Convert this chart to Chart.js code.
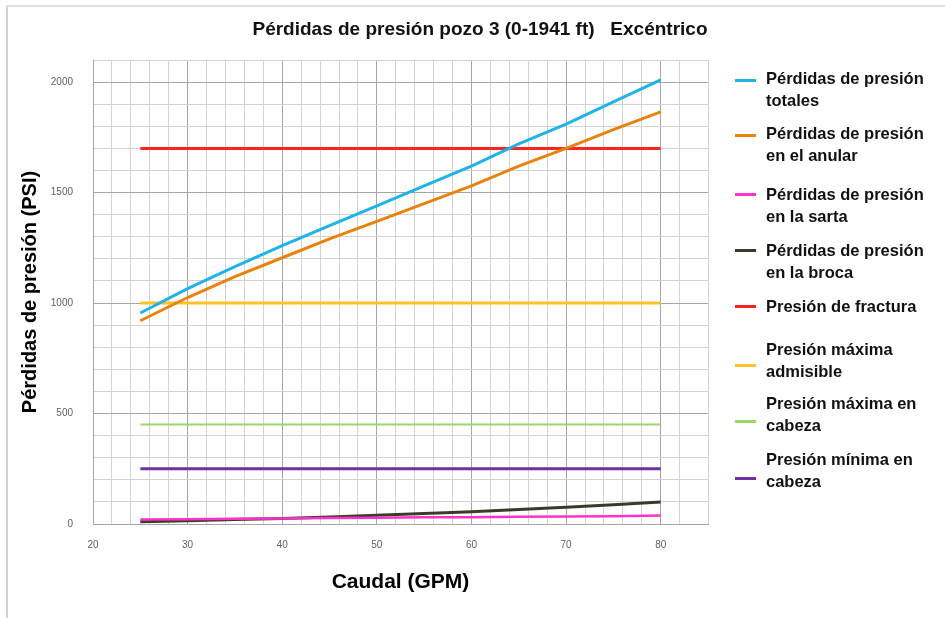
<!DOCTYPE html>
<html>
<head>
<meta charset="utf-8">
<script src="https://cdn.jsdelivr.net/npm/chart.js@4.4.1/dist/chart.umd.min.js"></script>
<style>
  html, body { margin: 0; padding: 0; background: #fff; }
  #wrap { position: relative; width: 945px; height: 618px; overflow: hidden; }
  #frame { position: absolute; left: 6px; top: 5px; width: 945px; height: 620px;
           border-left: 2px solid #d4d4d4; border-top: 2px solid #e0e0e0; }
  #title { position: absolute; left: 0; width: 960px; top: 18px; text-align: center;
           font: bold 19px "Liberation Sans", Arial, sans-serif; color: #111; white-space: pre; }
  .leg { position: absolute; left: 735px; font: bold 16.5px "Liberation Sans", Arial, sans-serif;
         color: #111; line-height: 22px; }
  .leg span.s { position: absolute; left: 0; width: 21px; height: 3px; }
  .leg div.t { position: absolute; left: 31px; white-space: nowrap; }
</style>
</head>
<body>
<div id="wrap">
  <div id="frame"></div>
  <div id="title">Pérdidas de presión pozo 3 (0-1941 ft)   Excéntrico</div>
  <canvas id="plotCanvas" width="945" height="618"></canvas>
  <div id="legend"></div>
</div>
<script>
// caudal (GPM)
const caudal = [25, 30, 35, 40, 45, 50, 55, 60, 65, 70, 75, 80];

// pressure losses (PSI)
const totales = [955, 1065, 1165, 1260, 1350, 1440, 1530, 1620, 1720, 1810, 1910, 2010];
const anular  = [920, 1025, 1120, 1205, 1290, 1370, 1450, 1530, 1620, 1700, 1785, 1865];
const sarta   = [20, 22, 24, 25, 27, 28, 30, 31, 33, 34, 35, 38];
const broca   = [10, 15, 20, 25, 32, 40, 48, 56, 66, 76, 87, 100];
const fractura    = [1700, 1700, 1700, 1700, 1700, 1700, 1700, 1700, 1700, 1700, 1700, 1700];
const maxAdmis    = [1000, 1000, 1000, 1000, 1000, 1000, 1000, 1000, 1000, 1000, 1000, 1000];
const maxCabeza   = [450, 450, 450, 450, 450, 450, 450, 450, 450, 450, 450, 450];
const minCabeza   = [250, 250, 250, 250, 250, 250, 250, 250, 250, 250, 250, 250];

const xTickLabels = [20, 30, 40, 50, 60, 70, 80];
const yTickLabels = [0, 500, 1000, 1500, 2000];

const series = [
  { lines: ['Pérdidas de presión', 'totales'],     data: totales,   color: '#1fb3ea', width: 3 },
  { lines: ['Pérdidas de presión', 'en el anular'], data: anular,   color: '#e8830f', width: 3 },
  { lines: ['Pérdidas de presión', 'en la sarta'], data: sarta,     color: '#ff33cc', width: 2.5 },
  { lines: ['Pérdidas de presión', 'en la broca'], data: broca,     color: '#3b3b2b', width: 3 },
  { lines: ['Presión de fractura'],                data: fractura,  color: '#ff2424', width: 3 },
  { lines: ['Presión máxima', 'admisible'],         data: maxAdmis,  color: '#ffc12a', width: 3 },
  { lines: ['Presión máxima en', 'cabeza'],         data: maxCabeza, color: '#9ad86a', width: 2 },
  { lines: ['Presión mínima en', 'cabeza'],         data: minCabeza, color: '#7030a0', width: 3 }
];

// legend placement: [text top, sample line y]
const legendPos = [[67, 80], [122, 135], [183, 194], [239, 250], [295, 306], [338, 365], [392, 421], [448, 478]];

const ctx = document.getElementById('plotCanvas');

const chart = new Chart(ctx, {
  type: 'line',
  data: {
    datasets: series.map(s => ({
      label: s.lines.join(' '),
      data: s.data.map((v, i) => ({ x: caudal[i], y: v })),
      borderColor: s.color,
      backgroundColor: s.color,
      borderWidth: s.width,
      pointRadius: 0,
      tension: 0
    }))
  },
  options: {
    responsive: false,
    animation: false,
    layout: { padding: { top: 60, right: 237, left: 0, bottom: 0 } },
    plugins: {
      legend: { display: false },
      tooltip: { enabled: false }
    },
    scales: {
      x: {
        type: 'linear',
        min: 20,
        max: 85,
        afterFit: s => { s.height = 94; },
        ticks: {
          stepSize: 2,
          padding: 15,
          color: '#606060',
          font: { family: 'Liberation Sans', size: 10 },
          autoSkip: false,
          maxRotation: 0,
          callback: v => xTickLabels.includes(v) ? String(v) : ''
        },
        grid: {
          drawTicks: false,
          color: c => (c.tick && c.tick.value % 10 === 0) ? '#a6a6a6' : '#d3d3d3'
        },
        border: { color: '#a6a6a6' },
        title: {
          display: true,
          text: 'Caudal (GPM)',
          color: '#000',
          font: { family: 'Liberation Sans', size: 21, weight: 'bold' },
          padding: { top: 0, bottom: 23 }
        }
      },
      y: {
        min: 0,
        max: 2100,
        afterFit: s => { s.width = 93; },
        ticks: {
          stepSize: 100,
          padding: 20,
          color: '#606060',
          font: { family: 'Liberation Sans', size: 10 },
          autoSkip: false,
          callback: v => yTickLabels.includes(v) ? String(v) : ''
        },
        grid: {
          drawTicks: false,
          color: c => (c.tick && c.tick.value % 500 === 0) ? '#a6a6a6' : '#d3d3d3'
        },
        border: { color: '#a6a6a6' },
        title: {
          display: true,
          text: 'Pérdidas de presión (PSI)',
          color: '#000',
          font: { family: 'Liberation Sans', size: 20, weight: 'bold' },
          padding: { top: 18, bottom: 0 }
        }
      }
    }
  }
});

// legend with wrapped labels
const legend = document.getElementById('legend');
series.forEach((s, i) => {
  const [top, lineY] = legendPos[i];
  const item = document.createElement('div');
  item.className = 'leg';
  item.style.top = top + 'px';
  const sample = document.createElement('span');
  sample.className = 's';
  sample.style.background = s.color;
  sample.style.top = (lineY - top - 1) + 'px';
  const txt = document.createElement('div');
  txt.className = 't';
  txt.innerHTML = s.lines.join('<br>');
  item.appendChild(sample);
  item.appendChild(txt);
  legend.appendChild(item);
});
</script>
</body>
</html>
